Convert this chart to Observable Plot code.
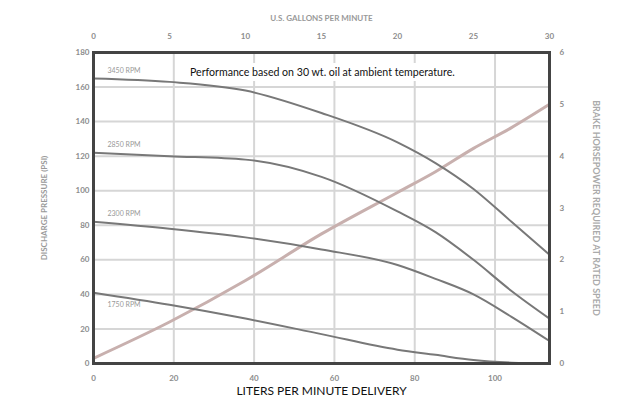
<!DOCTYPE html>
<html>
<head>
<meta charset="utf-8">
<script src="https://cdn.jsdelivr.net/npm/d3@7"></script>
<script src="https://cdn.jsdelivr.net/npm/@observablehq/plot@0.6"></script>
<style>
  html, body { margin: 0; padding: 0; background: #fff; }
  #wrap { position: relative; width: 620px; height: 404px; }
  #note { position: absolute; left: 180px; top: 63px; width: 286px; height: 18px;
          background: #fff; font-family: Lato, "Open Sans", sans-serif; font-size: 10.6px;
          color: #111; line-height: 18px; padding-left: 10px; box-sizing: border-box; white-space: nowrap; }
</style>
</head>
<body>
<div id="wrap"><div id="note">Performance based on 30 wt. oil at ambient temperature.</div></div>
<script>
// ---- data ----
const LPM_PER_GPM = 3.785411784;
const gpm     = [0, 5, 10, 15, 20, 22.5, 25, 27.5, 30];
const curveA  = [165, 163, 158, 145, 128, 116, 101, 82, 63];
const curveB  = [122, 120, 118, 108, 88, 76, 60, 42, 26];
const curveC  = [82, 78, 73, 66, 57, 49, 40, 27, 13];
const curveD  = [41, 34, 26, 17, 8, 5, 2, 0.5, 0];
const hp      = [0.1, 0.8, 1.6, 2.5, 3.3, 3.7, 4.15, 4.55, 5.0];
const curveNames = ["3450 RPM", "2850 RPM", "2300 RPM", "1750 RPM"];
const psiTicks = [0, 20, 40, 60, 80, 100, 120, 140, 160, 180];
const lpmTicks = [0, 20, 40, 60, 80, 100];
const gpmTicks = [0, 5, 10, 15, 20, 25, 30];
const hpTicks  = [0, 1, 2, 3, 4, 5, 6];
const psiMax = 180, hpMax = 6;
const hpToPsi = v => v * psiMax / hpMax;

const curves = [curveA, curveB, curveC, curveD];
const rows = curves.flatMap((c, i) => gpm.map((g, j) => ({series: curveNames[i], gpm: g, psi: c[j]})));
const hpRows = gpm.map((g, j) => ({gpm: g, v: hpToPsi(hp[j])}));
const labelRows = curves.map((c, i) => ({name: curveNames[i], gpm: gpm[0], psi: c[0], below: i === 3}));

const tickColor = "#8c8c8c";
const chart = Plot.plot({
  width: 620,
  height: 404,
  marginLeft: 93,
  marginRight: 71,
  marginTop: 52,
  marginBottom: 41,
  style: {fontFamily: "Lato, 'Open Sans', sans-serif", background: "#fff"},
  x: {domain: [0, 30]},
  y: {domain: [0, psiMax]},
  marks: [
    Plot.gridY(psiTicks, {stroke: "#d6d6d6", strokeOpacity: 1, strokeWidth: 2}),
    Plot.gridX(lpmTicks.map(l => l / LPM_PER_GPM), {stroke: "#d6d6d6", strokeOpacity: 1, strokeWidth: 2}),
    Plot.line(hpRows, {x: "gpm", y: "v", stroke: "#c8b0ae", strokeWidth: 3, curve: "monotone-x"}),
    Plot.line(rows, {x: "gpm", y: "psi", z: "series", stroke: "#787878", strokeWidth: 2, curve: "monotone-x"}),
    Plot.text(labelRows.filter(d => !d.below), {x: "gpm", y: "psi", text: "name", textAnchor: "start", dx: 14, dy: -8, fontSize: 7, fill: "#999"}),
    Plot.text(labelRows.filter(d => d.below), {x: "gpm", y: "psi", text: "name", textAnchor: "start", dx: 14, dy: 12, fontSize: 7, fill: "#999"}),
    Plot.frame({stroke: "#444", strokeWidth: 3}),
    Plot.axisX(lpmTicks.map(l => l / LPM_PER_GPM), {anchor: "bottom", tickSize: 0, tickPadding: 12,
      tickFormat: d => String(Math.round(d * LPM_PER_GPM)), label: null, fill: tickColor, fontSize: 8, fontWeight: "bold"}),
    Plot.axisX(gpmTicks, {anchor: "top", tickSize: 0, tickPadding: 14, label: null, fill: tickColor, fontSize: 8, fontWeight: "bold"}),
    Plot.axisY(psiTicks, {anchor: "left", tickSize: 0, tickPadding: 4, label: null, fill: tickColor, fontSize: 8, fontWeight: "bold"}),
    Plot.axisY(hpTicks.map(hpToPsi), {anchor: "right", tickSize: 0, tickPadding: 10,
      tickFormat: d => String(d * hpMax / psiMax), label: null, fill: tickColor, fontSize: 8, fontWeight: "bold"}),
    Plot.text(["LITERS PER MINUTE DELIVERY"], {frameAnchor: "bottom", textAnchor: "middle", dy: 31, fontSize: 12, fill: "#111"}),
    Plot.text(["U.S. GALLONS PER MINUTE"], {frameAnchor: "top", textAnchor: "middle", dy: -37, fontSize: 8, fill: "#999", fontWeight: "bold"}),
    Plot.text(["DISCHARGE PRESSURE (PSI)"], {frameAnchor: "left", textAnchor: "middle", dx: -49, rotate: -90, fontSize: 8, fill: "#999", fontWeight: "bold"}),
    Plot.text(["BRAKE HORSEPOWER REQUIRED AT RATED SPEED"], {frameAnchor: "right", textAnchor: "middle", dx: 46, rotate: 90, fontSize: 9, fill: "#aaa", fontWeight: "bold"})
  ]
});
document.getElementById("wrap").prepend(chart);
chart.style.position = "absolute";
chart.style.left = "0";
chart.style.top = "0";
</script>
</body>
</html>
